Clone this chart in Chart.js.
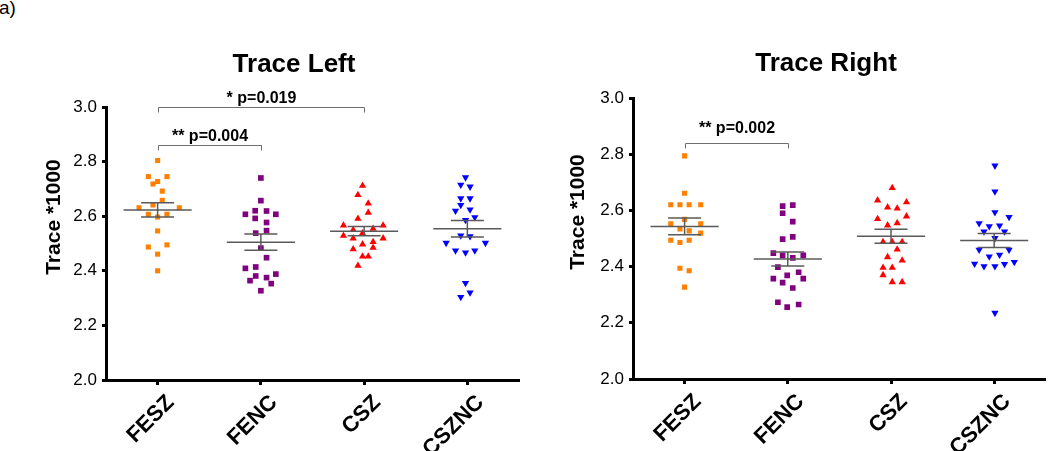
<!DOCTYPE html>
<html lang="en">
<head>
<meta charset="UTF-8">
<title>Trace Left / Trace Right</title>
<style>
    body { margin: 0; background: #fff; }
    #wrap { position: relative; width: 1050px; height: 451px; overflow: hidden; }
    #tag { position: absolute; left: -1px; top: -3px; font: 19px "Liberation Sans", Arial, sans-serif; color: #000; }
    canvas { position: absolute; top: 0; }
</style>
<script src="https://cdn.jsdelivr.net/npm/chart.js"></script>
</head>
<body>
<div id="wrap">
    <div id="tag">a)</div>
    <canvas id="leftChart" width="525" height="451" style="left:0"></canvas>
    <canvas id="rightChart" width="525" height="451" style="left:525px"></canvas>
</div>

<script>
const categories = ['FESZ', 'FENC', 'CSZ', 'CSZNC'];
const yTickValues = [2.0, 2.2, 2.4, 2.6, 2.8, 3.0];

// === Trace Left === (values + horizontal jitter in category units)
const leftFeszY  = [2.804, 2.745, 2.745, 2.727, 2.718, 2.692, 2.658, 2.641, 2.631, 2.631, 2.607, 2.607, 2.597, 2.546, 2.495, 2.487, 2.461, 2.400];
const leftFeszDx = [0, -0.09, 0.09, 0, -0.045, 0.045, 0.045, -0.045, -0.18, 0.21, -0.09, 0.09, 0, 0, 0.09, -0.09, 0, 0];
const leftFencY  = [2.740, 2.657, 2.607, 2.620, 2.592, 2.619, 2.607, 2.577, 2.547, 2.538, 2.483, 2.448, 2.409, 2.414, 2.381, 2.364, 2.375, 2.388, 2.353, 2.327];
const leftFencDx = [0, 0, -0.15, -0.055, -0.055, 0.055, 0.145, 0.055, 0.055, -0.05, 0, 0.055, -0.15, -0.05, -0.05, -0.105, 0.055, 0.145, 0.1, 0];
const leftCszY   = [2.712, 2.678, 2.647, 2.613, 2.591, 2.566, 2.566, 2.554, 2.550, 2.538, 2.529, 2.519, 2.519, 2.506, 2.497, 2.485, 2.479, 2.453, 2.453, 2.419];
const leftCszDx  = [-0.015, -0.06, 0.04, 0.04, -0.06, -0.2, 0.184, 0.087, -0.106, -0.015, -0.2, -0.106, 0.184, 0.087, -0.015, 0.087, -0.106, -0.015, 0.04, -0.06];
const leftCszncY = [2.742, 2.715, 2.708, 2.665, 2.665, 2.641, 2.620, 2.624, 2.596, 2.586, 2.529, 2.526, 2.502, 2.502, 2.474, 2.467, 2.474, 2.355, 2.320, 2.304];
const leftCszncDx = [-0.018, -0.064, 0.026, -0.064, 0.026, -0.064, -0.115, 0.026, 0.072, -0.018, -0.064, 0.026, -0.206, 0.175, -0.115, -0.018, 0.072, -0.018, 0.026, -0.064];
const leftMeans = [2.623, 2.505, 2.545, 2.554];
const leftSems  = [0.026, 0.030, 0.017, 0.030];
const leftBrackets = [
    { from: 0, to: 2, level: 3.00, label: '* p=0.019' },
    { from: 0, to: 1, level: 2.86, label: '** p=0.004' }
];

// === Trace Right ===
const rightFeszY  = [2.794, 2.661, 2.620, 2.620, 2.620, 2.620, 2.568, 2.552, 2.552, 2.534, 2.527, 2.519, 2.494, 2.486, 2.494, 2.394, 2.385, 2.327];
const rightFeszDx = [0, 0, -0.134, -0.045, 0.044, 0.156, 0, -0.134, 0.156, -0.045, 0.044, 0.156, -0.134, -0.045, 0.044, -0.045, 0.044, 0];
const rightFencY  = [2.615, 2.590, 2.619, 2.560, 2.506, 2.498, 2.448, 2.440, 2.431, 2.440, 2.398, 2.380, 2.369, 2.357, 2.357, 2.343, 2.324, 2.273, 2.256, 2.265];
const rightFencDx = [-0.05, -0.05, 0.048, 0.048, 0.048, -0.05, -0.14, -0.05, 0.048, 0.15, -0.096, 0.105, -0.006, -0.14, 0.15, -0.05, 0.048, -0.096, -0.006, 0.105];
const rightCszY   = [2.680, 2.636, 2.629, 2.611, 2.607, 2.579, 2.570, 2.547, 2.555, 2.488, 2.488, 2.488, 2.461, 2.434, 2.422, 2.396, 2.396, 2.370, 2.345, 2.345];
const rightCszDx  = [0.012, -0.13, 0.15, -0.033, 0.06, 0.15, -0.13, -0.033, 0.06, -0.077, 0.012, 0.108, 0.06, -0.033, 0.108, -0.077, 0.012, -0.077, 0.012, 0.108];
const rightCszncY = [2.759, 2.667, 2.593, 2.576, 2.554, 2.543, 2.546, 2.525, 2.525, 2.501, 2.460, 2.460, 2.436, 2.442, 2.416, 2.410, 2.401, 2.401, 2.409, 2.235];
const rightCszncDx = [0.007, 0.007, 0.007, 0.144, -0.146, -0.048, 0.052, -0.099, 0.1, 0.007, -0.146, 0.144, -0.048, 0.052, 0.195, -0.19, -0.099, 0.007, 0.1, 0.007];
const rightMeans = [2.543, 2.427, 2.508, 2.493];
const rightSems  = [0.030, 0.025, 0.025, 0.025];
const rightBrackets = [
    { from: 0, to: 1, level: 2.84, label: '** p=0.002' }
];

const FONT = '"Liberation Sans", Arial, sans-serif';

function points(index, ys, dxs) {
    return ys.map((y, k) => ({ x: index + dxs[k], y: y }));
}

function groupSets(groups) {
    const styles = [
        { color: '#ff8000', pointStyle: 'rect', radius: 3.6, rotation: 0 },
        { color: '#800080', pointStyle: 'rect', radius: 4.0, rotation: 0 },
        { color: '#ff0000', pointStyle: 'triangle', radius: 4.2, rotation: 0 },
        { color: '#0000ff', pointStyle: 'triangle', radius: 4.2, rotation: 180 }
    ];
    return groups.map((g, i) => ({
        label: categories[i],
        data: points(i, g[0], g[1]),
        showLine: false,
        pointStyle: styles[i].pointStyle,
        pointRotation: styles[i].rotation,
        pointRadius: styles[i].radius,
        pointHoverRadius: styles[i].radius,
        pointBackgroundColor: styles[i].color,
        pointBorderColor: styles[i].color,
        pointBorderWidth: 0
    }));
}

// titles, brackets and mean +/- SEM bars
const panelDecor = {
    id: 'panelDecor',
    afterDatasetsDraw(chart, args, o) {
        const ctx = chart.ctx;
        const xs = chart.scales.x, ys = chart.scales.y;
        ctx.save();

        // mean and SEM
        ctx.strokeStyle = '#5a5a5a';
        ctx.lineWidth = 1.5;
        o.means.forEach((m, i) => {
            const yM = ys.getPixelForValue(m);
            const yHi = ys.getPixelForValue(m + o.sems[i]);
            const yLo = ys.getPixelForValue(m - o.sems[i]);
            ctx.beginPath();
            ctx.moveTo(xs.getPixelForValue(i - 0.33), yM);
            ctx.lineTo(xs.getPixelForValue(i + 0.33), yM);
            ctx.moveTo(xs.getPixelForValue(i - 0.16), yHi);
            ctx.lineTo(xs.getPixelForValue(i + 0.16), yHi);
            ctx.moveTo(xs.getPixelForValue(i - 0.16), yLo);
            ctx.lineTo(xs.getPixelForValue(i + 0.16), yLo);
            ctx.moveTo(xs.getPixelForValue(i), yHi);
            ctx.lineTo(xs.getPixelForValue(i), yLo);
            ctx.stroke();
        });

        // significance brackets
        ctx.strokeStyle = '#6e6e6e';
        ctx.lineWidth = 1;
        ctx.fillStyle = '#000';
        ctx.font = 'bold 16px ' + FONT;
        ctx.textAlign = 'center';
        ctx.textBaseline = 'alphabetic';
        o.brackets.forEach(b => {
            const x1 = Math.round(xs.getPixelForValue(b.from)) + 0.5;
            const x2 = Math.round(xs.getPixelForValue(b.to)) + 0.5;
            const y = Math.round(ys.getPixelForValue(b.level)) + 0.5;
            ctx.beginPath();
            ctx.moveTo(x1, y + 5);
            ctx.lineTo(x1, y);
            ctx.lineTo(x2, y);
            ctx.lineTo(x2, y + 5);
            ctx.stroke();
            ctx.fillText(b.label, (x1 + x2) / 2, y - o.textGap);
        });

        // panel title
        ctx.font = 'bold 26px ' + FONT;
        ctx.fillText(o.title, o.titleX, o.titleY);

        // y axis title
        ctx.translate(o.yTitleX, o.yTitleY);
        ctx.rotate(-Math.PI / 2);
        ctx.font = 'bold 21px ' + FONT;
        ctx.textBaseline = 'middle';
        ctx.fillText('Trace *1000', 0, 0);
        ctx.restore();
    }
};

function makeChart(canvasId, groups, decor, pad, yWidth, xHeight) {
    const ctx = document.getElementById(canvasId).getContext('2d');
    return new Chart(ctx, {
        type: 'scatter',
        data: { datasets: groupSets(groups) },
        plugins: [panelDecor],
        options: {
            responsive: false,
            animation: false,
            layout: { padding: pad },
            plugins: {
                legend: { display: false },
                tooltip: { enabled: false },
                panelDecor: decor
            },
            scales: {
                x: {
                    type: 'linear',
                    min: -0.5,
                    max: 3.5,
                    afterBuildTicks: s => { s.ticks = categories.map((c, i) => ({ value: i })); },
                    afterFit: s => { s.height = xHeight; },
                    grid: { display: true, drawOnChartArea: false, drawTicks: true, tickLength: 5, tickWidth: 3, tickColor: '#000' },
                    border: { display: true, color: '#000', width: 3 },
                    ticks: {
                        autoSkip: false,
                        maxRotation: 45,
                        minRotation: 45,
                        padding: 5,
                        labelOffset: 13,
                        color: '#000',
                        font: { family: FONT, size: 22, weight: 'bold' },
                        callback: v => categories[v]
                    }
                },
                y: {
                    min: 2.0,
                    max: 3.0,
                    afterBuildTicks: s => { s.ticks = yTickValues.map(v => ({ value: v })); },
                    afterFit: s => { s.width = yWidth; },
                    grid: { display: true, drawOnChartArea: false, drawTicks: true, tickLength: 4, tickWidth: 3, tickColor: '#000' },
                    border: { display: true, color: '#000', width: 3 },
                    ticks: {
                        padding: 5,
                        color: '#000',
                        font: { family: FONT, size: 17 },
                        callback: v => v.toFixed(1)
                    }
                }
            }
        }
    });
}

makeChart('leftChart',
    [[leftFeszY, leftFeszDx], [leftFencY, leftFencDx], [leftCszY, leftCszDx], [leftCszncY, leftCszncDx]],
    { means: leftMeans, sems: leftSems, brackets: leftBrackets, textGap: 5,
      title: 'Trace Left', titleX: 294, titleY: 72, yTitleX: 54, yTitleY: 217 },
    { top: 107, left: 0, right: 6, bottom: 0 }, 106, 71);

makeChart('rightChart',
    [[rightFeszY, rightFeszDx], [rightFencY, rightFencDx], [rightCszY, rightCszDx], [rightCszncY, rightCszncDx]],
    { means: rightMeans, sems: rightSems, brackets: rightBrackets, textGap: 11,
      title: 'Trace Right', titleX: 301, titleY: 71, yTitleX: 53, yTitleY: 212 },
    { top: 98, left: 0, right: 0, bottom: 0 }, 108, 72);
</script>
</body>
</html>
